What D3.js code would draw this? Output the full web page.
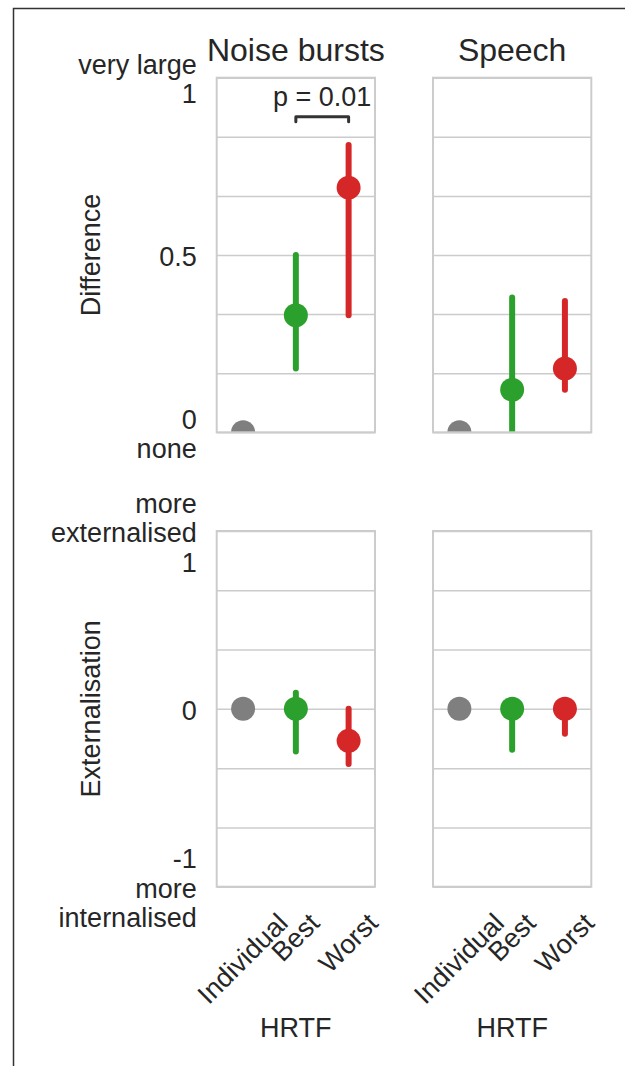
<!DOCTYPE html>
<html>
<head>
<meta charset="utf-8">
<script src="https://cdn.jsdelivr.net/npm/d3@7"></script>
<style>
    html, body { margin: 0; padding: 0; background: #fff; }
    svg text { font-family: "Liberation Sans", Arial, sans-serif; fill: #262626; }
</style>
</head>
<body>
<script>
// HRTF conditions and their colours
const categories = ["Individual", "Best", "Worst"];
const colours = ["#7f7f7f", "#2ca02c", "#d62728"];
const stimuli = ["Noise bursts", "Speech"];

// Difference ratings (one row per stimulus, one value per HRTF)
const diffMean = [[0, 0.33, 0.69], [0, 0.12, 0.18]];
const diffLow = [[0, 0.18, 0.33], [0, -0.14, 0.12]];
const diffHigh = [[0, 0.50, 0.81], [0, 0.38, 0.37]];

// Externalisation ratings
const extMean = [[0, 0, -0.18], [0, 0, 0]];
const extLow = [[0, -0.24, -0.31], [0, -0.23, -0.14]];
const extHigh = [[0, 0.09, 0.0], [0, 0, 0]];

// y ticks
const diffTicks = [0, 0.5, 1];
const diffTickLabels = [["0", "none"], ["0.5"], ["very large", "1"]];
const diffGrid = [0, 1 / 6, 2 / 6, 3 / 6, 4 / 6, 5 / 6, 1];
const extTicks = [-1, 0, 1];
const extTickLabels = [["-1", "more", "internalised"], ["0"], ["more", "externalised", "1"]];
const extGrid = [-1, -2 / 3, -1 / 3, 0, 1 / 3, 2 / 3, 1];

// significance bracket (noise bursts, difference)
const sigPair = ["Best", "Worst"];
const sigLevel = 0.89;
const sigLabel = "p = 0.01";

const width = 625, height = 1066;
const colX = [[216.7, 375], [433, 591.3]];
const rows = [
    { top: 77.7, bottom: 432.3, domain: [0, 1], mean: diffMean, low: diffLow, high: diffHigh,
      ticks: diffTicks, labels: diffTickLabels, grid: diffGrid, title: "Difference" },
    { top: 531, bottom: 886.7, domain: [-1, 1], mean: extMean, low: extLow, high: extHigh,
      ticks: extTicks, labels: extTickLabels, grid: extGrid, title: "Externalisation" }
];

const svg = d3.select("body").append("svg")
    .attr("width", width)
    .attr("height", height);

// figure frame
svg.append("path")
    .attr("d", `M13.5,${height} V8.5 H${width}`)
    .attr("fill", "none")
    .attr("stroke", "#333")
    .attr("stroke-width", 1.5);

const defs = svg.append("defs");

rows.forEach((row, r) => {
    stimuli.forEach((stim, c) => {
        const [x0, x1] = colX[c];
        const x = d3.scalePoint().domain(categories).range([x0, x1]).padding(0.5);
        const y = d3.scaleLinear().domain(row.domain).range([row.bottom, row.top]);
        const g = svg.append("g");

        // grid lines
        g.append("g")
            .attr("transform", `translate(${x0},0)`)
            .call(d3.axisLeft(y).tickValues(row.grid).tickSize(-(x1 - x0)).tickFormat(""))
            .call(a => a.select(".domain").remove())
            .selectAll("line")
            .attr("stroke", "#cccccc")
            .attr("stroke-width", 1.5);

        const clipId = `clip-${r}-${c}`;
        defs.append("clipPath").attr("id", clipId)
            .append("rect")
            .attr("x", x0).attr("y", row.top)
            .attr("width", x1 - x0).attr("height", row.bottom - row.top);

        const marks = g.append("g").attr("clip-path", `url(#${clipId})`);
        categories.forEach((cat, i) => {
            if (row.low[c][i] !== row.high[c][i]) {
                marks.append("line")
                    .attr("x1", x(cat)).attr("x2", x(cat))
                    .attr("y1", y(row.low[c][i])).attr("y2", y(row.high[c][i]))
                    .attr("stroke", colours[i])
                    .attr("stroke-width", 6)
                    .attr("stroke-linecap", "round");
            }
            marks.append("circle")
                .attr("cx", x(cat))
                .attr("cy", y(row.mean[c][i]))
                .attr("r", 12)
                .attr("fill", colours[i]);
        });

        // panel border
        g.append("rect")
            .attr("x", x0).attr("y", row.top)
            .attr("width", x1 - x0).attr("height", row.bottom - row.top)
            .attr("fill", "none")
            .attr("stroke", "#cccccc")
            .attr("stroke-width", 2);

        if (r === 0) {
            svg.append("text")
                .attr("x", (x0 + x1) / 2)
                .attr("y", 60.7)
                .attr("text-anchor", "middle")
                .style("font-size", "32px")
                .text(stim);
        }

        if (r === 0 && c === 0) {
            const ys = y(sigLevel);
            const xa = x(sigPair[0]), xb = x(sigPair[1]);
            g.append("path")
                .attr("d", `M${xa},${ys + 5} V${ys} H${xb} V${ys + 5}`)
                .attr("fill", "none")
                .attr("stroke", "#333")
                .attr("stroke-width", 3)
                .attr("stroke-linecap", "round")
                .attr("stroke-linejoin", "round");
            g.append("text")
                .attr("x", (xa + xb) / 2)
                .attr("y", ys - 10.5)
                .attr("text-anchor", "middle")
                .style("font-size", "27px")
                .text(sigLabel);
        }

        if (c === 0) {
            // multi-line y tick labels
            row.ticks.forEach((v, k) => {
                const lines = row.labels[k];
                const first = y(v) + 11 - (lines.length - 1) * 29.5 / 2;
                const t = svg.append("text")
                    .attr("text-anchor", "end")
                    .style("font-size", "27px");
                lines.forEach((s, j) => {
                    t.append("tspan")
                        .attr("x", x0 - 20)
                        .attr("y", first + j * 29.5)
                        .text(s);
                });
            });
            svg.append("text")
                .attr("transform", `translate(99.5,${(row.top + row.bottom) / 2}) rotate(-90)`)
                .attr("text-anchor", "middle")
                .style("font-size", "27px")
                .text(row.title);
        }

        if (r === 1) {
            categories.forEach(cat => {
                const t = svg.append("text")
                    .attr("text-anchor", "middle")
                    .attr("dy", "0.32em")
                    .style("font-size", "27px")
                    .text(cat);
                const w = t.node().getComputedTextLength();
                const side = (w + 30) / Math.SQRT2;
                t.attr("transform", `translate(${x(cat)},${908 + side / 2}) rotate(-45)`);
            });
            svg.append("text")
                .attr("x", (x0 + x1) / 2)
                .attr("y", 1036.7)
                .attr("text-anchor", "middle")
                .style("font-size", "27px")
                .text("HRTF");
        }
    });
});
</script>
</body>
</html>
